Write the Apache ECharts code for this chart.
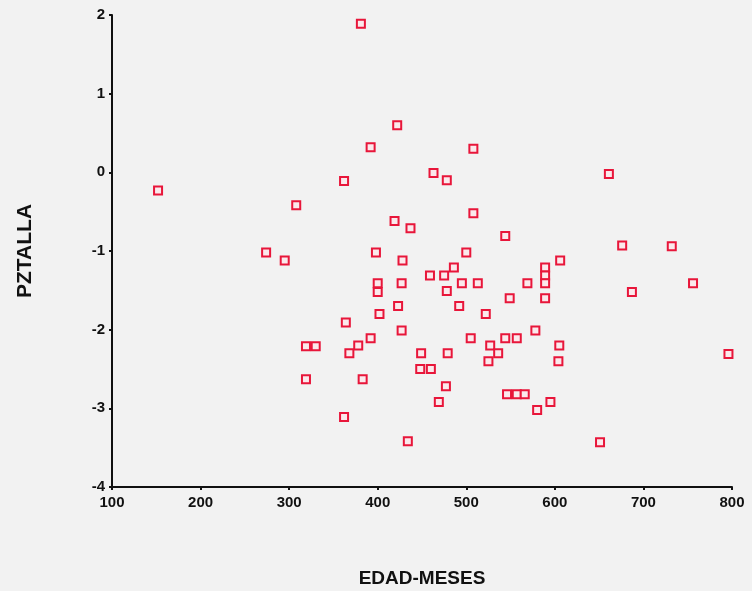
<!DOCTYPE html>
<html>
<head>
<meta charset="utf-8">
<script src="https://cdn.jsdelivr.net/npm/echarts@6/dist/echarts.min.js"></script>
<style>
html,body{margin:0;padding:0;background:#f2f2f2;}
#c{width:752px;height:591px;}
</style>
</head>
<body>
<div id="c"></div>
<script>
var edadMeses = [381,152,422,392,463,362,308,419,437,274,295,398,428,459,508,478,508,544,500,606,486,589,589,475,661,400,400,427,423,402,364,427,392,319,330,378,368,449,448,460,319,383,469,362,434,589,589,495,513,569,478,549,492,522,578,505,544,557,527,605,536,479,525,604,477,546,557,566,595,580,651,676,732,756,687,796];
var pztalla = [1.89,-0.23,0.60,0.32,-0.01,-0.11,-0.42,-0.62,-0.71,-1.02,-1.12,-1.02,-1.12,-1.31,0.30,-0.10,-0.52,-0.81,-1.02,-1.12,-1.21,-1.21,-1.31,-1.31,-0.02,-1.41,-1.52,-1.41,-1.70,-1.80,-1.91,-2.01,-2.11,-2.21,-2.21,-2.20,-2.30,-2.30,-2.50,-2.50,-2.63,-2.63,-2.92,-3.11,-3.42,-1.41,-1.60,-1.41,-1.41,-1.41,-1.51,-1.60,-1.70,-1.80,-2.01,-2.11,-2.11,-2.11,-2.20,-2.20,-2.30,-2.30,-2.40,-2.40,-2.72,-2.82,-2.82,-2.82,-2.92,-3.02,-3.43,-0.93,-0.94,-1.41,-1.52,-2.31];
var xTicks = [100,200,300,400,500,600,700,800];
var yTicks = [-4,-3,-2,-1,0,1,2];
var xTitle = 'EDAD-MESES';
var yTitle = 'PZTALLA';

var points = edadMeses.map(function(x,i){return [x,pztalla[i]];});
var chart = echarts.init(document.getElementById('c'));
var font = 'Liberation Sans, Arial, sans-serif';
chart.setOption({
  backgroundColor:'#f2f2f2',
  animation:false,
  grid:{left:112,right:20,top:15,bottom:104,containLabel:false,outerBoundsMode:'none'},
  xAxis:{
    type:'value',min:xTicks[0],max:xTicks[xTicks.length-1],interval:100,
    name:xTitle,nameLocation:'middle',nameGap:82,
    nameTextStyle:{fontFamily:font,fontWeight:'bold',fontSize:19,color:'#111'},
    axisLine:{onZero:false,lineStyle:{color:'#111',width:2}},
    axisTick:{show:true,length:3,lineStyle:{color:'#111',width:2}},
    axisLabel:{fontFamily:font,fontWeight:'bold',fontSize:15,color:'#111',margin:8},
    splitLine:{show:false}
  },
  yAxis:{
    type:'value',min:yTicks[0],max:yTicks[yTicks.length-1],interval:1,
    name:yTitle,nameLocation:'middle',nameGap:76,nameRotate:90,
    nameTextStyle:{fontFamily:font,fontWeight:'bold',fontSize:21,color:'#111'},
    axisLine:{show:true,onZero:false,lineStyle:{color:'#111',width:2}},
    axisTick:{show:true,length:3,lineStyle:{color:'#111',width:2}},
    axisLabel:{fontFamily:font,fontWeight:'bold',fontSize:15,color:'#111',margin:7},
    splitLine:{show:false}
  },
  series:[{
    type:'scatter',
    data:points,
    symbol:'rect',
    symbolSize:8,
    itemStyle:{color:'#fbe9ec',borderColor:'#e8163a',borderWidth:2,opacity:1}
  }]
});
</script>
</body>
</html>
